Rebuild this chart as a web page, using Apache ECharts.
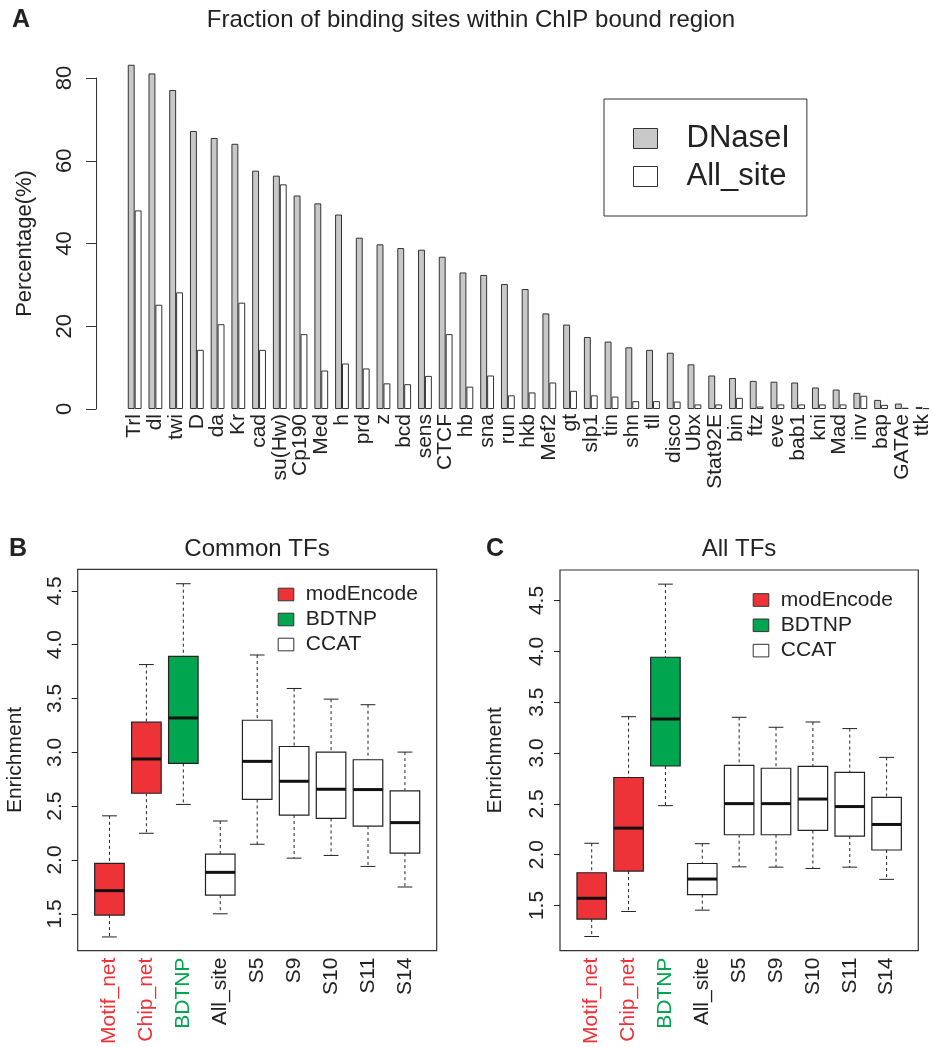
<!DOCTYPE html>
<html>
<head>
<meta charset="utf-8">
<script src="https://cdn.jsdelivr.net/npm/echarts@6/dist/echarts.min.js"></script>
<style>
  html, body { margin: 0; padding: 0; background: #fff; }
  #chart { width: 933px; height: 1047px; }
</style>
</head>
<body>
<div id="chart"></div>
<script>
// panel A: fraction of binding sites within ChIP bound region (%)
const tfNames = ['Trl', 'dl', 'twi', 'D', 'da', 'Kr', 'cad', 'su(Hw)', 'Cp190', 'Med', 'h', 'prd', 'z', 'bcd', 'sens', 'CTCF', 'hb', 'sna', 'run', 'hkb', 'Mef2', 'gt', 'slp1', 'tin', 'shn', 'tll', 'disco', 'Ubx', 'Stat92E', 'bin', 'ftz', 'eve', 'bab1', 'kni', 'Mad', 'inv', 'bap', 'GATAe', 'ttk'];
const dnaseValues = [83.2, 81.1, 77.1, 67.2, 65.5, 64.1, 57.6, 56.4, 51.6, 49.7, 47.0, 41.4, 39.8, 38.9, 38.5, 36.8, 33.0, 32.4, 30.2, 29.0, 23.1, 20.4, 17.4, 16.3, 14.9, 14.3, 13.6, 10.8, 8.1, 7.5, 6.8, 6.6, 6.4, 5.2, 4.7, 3.9, 2.2, 1.3, 0.5];
const allSiteValues = [48.0, 25.2, 28.2, 14.3, 20.5, 25.7, 14.3, 54.3, 18.1, 9.3, 11.0, 9.8, 6.2, 6.0, 8.0, 18.1, 5.4, 8.1, 3.3, 4.0, 6.4, 4.4, 3.3, 3.0, 1.9, 1.9, 1.8, 1.1, 1.1, 2.7, 0.6, 1.1, 1.1, 1.1, 1.1, 3.2, 1.0, 0.3, 0.2];

// panels B and C: enrichment boxplots
const boxNames = ['Motif_net', 'Chip_net', 'BDTNP', 'All_site', 'S5', 'S9', 'S10', 'S11', 'S14'];
const boxSources = ['modEncode', 'modEncode', 'BDTNP', 'CCAT', 'CCAT', 'CCAT', 'CCAT', 'CCAT', 'CCAT'];
const commonMin = [1.285, 2.248, 2.516, 1.500, 2.146, 2.017, 2.042, 1.940, 1.749];
const commonQ1 = [1.488, 2.620, 2.897, 1.673, 2.562, 2.417, 2.386, 2.315, 2.063];
const commonMedian = [1.715, 2.938, 3.319, 1.885, 2.916, 2.731, 2.657, 2.654, 2.347];
const commonQ3 = [1.968, 3.280, 3.891, 2.054, 3.298, 3.054, 3.002, 2.931, 2.642];
const commonMax = [2.410, 3.815, 4.566, 2.362, 3.904, 3.593, 3.494, 3.442, 3.002];
const allMin = [1.195, 1.441, 2.482, 1.454, 1.880, 1.877, 1.864, 1.877, 1.757];
const allQ1 = [1.366, 1.838, 2.872, 1.607, 2.196, 2.196, 2.238, 2.183, 2.046];
const allMedian = [1.571, 2.261, 3.334, 1.760, 2.502, 2.502, 2.547, 2.473, 2.297];
const allQ3 = [1.822, 2.759, 3.942, 1.913, 2.879, 2.850, 2.869, 2.810, 2.563];
const allMax = [2.112, 3.357, 4.661, 2.108, 3.351, 3.253, 3.305, 3.240, 2.957];
const enrichTicks = [1.5, 2.0, 2.5, 3.0, 3.5, 4.0, 4.5];
const boxPositions = [1, 2, 3, 4, 5, 6, 7, 8, 9];

const FONT = '"Liberation Sans", Arial, Helvetica, sans-serif';
const INK = '#222';
const RED = '#ee3338';
const GREEN = '#00a550';
const sourceFill = { modEncode: RED, BDTNP: GREEN, CCAT: '#ffffff' };

const chart = echarts.init(document.getElementById('chart'), null, { renderer: 'canvas' });

function renderBox(params, api) {
  const pos = api.value(0);
  const low = api.coord([pos, api.value(1)]);
  const q1 = api.coord([pos, api.value(2)]);
  const med = api.coord([pos, api.value(3)]);
  const q3 = api.coord([pos, api.value(4)]);
  const high = api.coord([pos, api.value(5)]);
  const boxW = api.size([0.8, 0])[0];
  const x = med[0];
  const dashed = { stroke: INK, lineWidth: 1, lineDash: [3, 3] };
  const solid = { stroke: INK, lineWidth: 1 };
  return {
    type: 'group',
    children: [
      { type: 'line', shape: { x1: x, y1: high[1], x2: x, y2: q3[1] }, style: dashed },
      { type: 'line', shape: { x1: x, y1: q1[1], x2: x, y2: low[1] }, style: dashed },
      { type: 'line', shape: { x1: x - boxW / 4, y1: high[1], x2: x + boxW / 4, y2: high[1] }, style: solid },
      { type: 'line', shape: { x1: x - boxW / 4, y1: low[1], x2: x + boxW / 4, y2: low[1] }, style: solid },
      { type: 'rect', shape: { x: x - boxW / 2, y: q3[1], width: boxW, height: q1[1] - q3[1] },
        style: { fill: api.visual('color'), stroke: INK, lineWidth: 1.2 } },
      { type: 'line', shape: { x1: x - boxW / 2, y1: med[1], x2: x + boxW / 2, y2: med[1] },
        style: { stroke: '#111', lineWidth: 3 } }
    ]
  };
}

function boxSeries(axisIdx, mins, q1s, meds, q3s, maxs) {
  return ['modEncode', 'BDTNP', 'CCAT'].map(function (src) {
    const data = [];
    boxPositions.forEach(function (p, i) {
      if (boxSources[i] === src) data.push([p, mins[i], q1s[i], meds[i], q3s[i], maxs[i]]);
    });
    return {
      name: src,
      type: 'custom',
      xAxisIndex: axisIdx,
      yAxisIndex: axisIdx,
      renderItem: renderBox,
      encode: { x: 0, y: [1, 2, 3, 4, 5] },
      itemStyle: { color: sourceFill[src], borderColor: INK, borderWidth: 1 },
      data: data,
      silent: true
    };
  });
}

function boxXAxis(gridIndex) {
  return {
    gridIndex: gridIndex,
    type: 'value',
    min: 0.14,
    max: 9.86,
    axisLine: { show: false },
    axisTick: { show: false },
    splitLine: { show: false },
    axisLabel: {
      customValues: boxPositions,
      rotate: 90,
      margin: 7,
      fontSize: 21,
      fontFamily: FONT,
      formatter: function (v) {
        const i = Math.round(v) - 1;
        return '{' + boxSources[i] + '|' + boxNames[i] + '}';
      },
      rich: {
        modEncode: { color: RED, fontSize: 21, fontFamily: FONT },
        BDTNP: { color: GREEN, fontSize: 21, fontFamily: FONT },
        CCAT: { color: INK, fontSize: 21, fontFamily: FONT }
      }
    }
  };
}

function boxYAxis(gridIndex, min, max, nameGap) {
  return {
    gridIndex: gridIndex,
    type: 'value',
    min: min,
    max: max,
    axisLine: { show: false },
    axisTick: { show: true, customValues: enrichTicks, length: 6, lineStyle: { color: INK } },
    splitLine: { show: false },
    axisLabel: {
      customValues: enrichTicks,
      rotate: 90,
      margin: 12,
      fontSize: 21,
      color: INK,
      fontFamily: FONT,
      formatter: function (v) { return v.toFixed(1); }
    },
    name: 'Enrichment',
    nameLocation: 'middle',
    nameRotate: 90,
    nameGap: nameGap,
    nameTextStyle: { fontSize: 21, color: INK, fontFamily: FONT }
  };
}

const titleStyle = { fontSize: 24, fontWeight: 'normal', color: INK, fontFamily: FONT };
const letterStyle = { fontSize: 25, fontWeight: 'bold', color: INK, fontFamily: FONT };

const option = {
  animation: false,
  backgroundColor: '#fff',
  textStyle: { fontFamily: FONT, color: INK },
  title: [
    { text: 'A', left: 12, top: 8, padding: 0, textStyle: letterStyle },
    { text: 'Fraction of binding sites within ChIP bound region', left: 471, top: 8, padding: 0, textAlign: 'center', textStyle: titleStyle },
    { text: 'B', left: 9, top: 537, padding: 0, textStyle: letterStyle },
    { text: 'Common TFs', left: 257, top: 537, padding: 0, textAlign: 'center', textStyle: titleStyle },
    { text: 'C', left: 486, top: 537, padding: 0, textStyle: letterStyle },
    { text: 'All TFs', left: 739, top: 537, padding: 0, textAlign: 'center', textStyle: titleStyle }
  ],
  legend: [
    {
      data: ['DNaseI', 'All_site'],
      left: 604, top: 99,
      orient: 'vertical',
      icon: 'rect',
      selectedMode: false,
      borderColor: '#333', borderWidth: 1,
      padding: [24, 17, 24, 29],
      itemWidth: 24, itemHeight: 20, itemGap: 7,
      itemStyle: { borderColor: '#333', borderWidth: 1 },
      textStyle: { fontSize: 31, color: INK, fontFamily: FONT, padding: [0, 0, 0, 24] }
    },
    {
      data: ['modEncode', 'BDTNP', 'CCAT'],
      left: 277.7, top: 584,
      orient: 'vertical',
      icon: 'rect',
      selectedMode: false,
      padding: 0,
      itemWidth: 15.6, itemHeight: 12.6, itemGap: 4,
      itemStyle: { borderColor: '#333', borderWidth: 1 },
      textStyle: { fontSize: 21, color: INK, fontFamily: FONT, padding: [0, 0, 0, 7] }
    },
    {
      data: ['modEncode', 'BDTNP', 'CCAT'],
      left: 752.7, top: 589.5,
      orient: 'vertical',
      icon: 'rect',
      selectedMode: false,
      padding: 0,
      itemWidth: 15.6, itemHeight: 12.6, itemGap: 4.3,
      itemStyle: { borderColor: '#333', borderWidth: 1 },
      textStyle: { fontSize: 21, color: INK, fontFamily: FONT, padding: [0, 0, 0, 7] }
    }
  ],
  grid: [
    { left: 124.3, top: 78, width: 811.2, height: 331 },
    { left: 77.7, top: 569.3, width: 359, height: 383.4, show: true, borderColor: '#333', borderWidth: 1.2, backgroundColor: 'transparent' },
    { left: 560, top: 570, width: 358.3, height: 383.3, show: true, borderColor: '#333', borderWidth: 1.2, backgroundColor: 'transparent' }
  ],
  xAxis: [
    {
      gridIndex: 0,
      type: 'category',
      data: tfNames,
      axisLine: { show: false },
      axisTick: { show: false },
      axisLabel: { interval: 0, rotate: 90, margin: 5, fontSize: 21, color: INK, fontFamily: FONT }
    },
    boxXAxis(1),
    boxXAxis(2)
  ],
  yAxis: [
    {
      gridIndex: 0,
      type: 'value',
      min: 0, max: 80, interval: 20,
      offset: 28.3,
      axisLine: { show: true, lineStyle: { color: '#333', width: 1 } },
      axisTick: { show: true, length: 10, lineStyle: { color: '#333' } },
      splitLine: { show: false },
      axisLabel: { rotate: 90, margin: 20, fontSize: 22, color: INK, fontFamily: FONT },
      name: 'Percentage(%)',
      nameLocation: 'middle',
      nameRotate: 90,
      nameGap: 60,
      nameTextStyle: { fontSize: 22, color: INK, fontFamily: FONT }
    },
    boxYAxis(1, 1.158, 4.70, 52),
    boxYAxis(2, 1.056, 4.80, 54)
  ],
  series: [
    {
      name: 'DNaseI',
      type: 'bar',
      xAxisIndex: 0, yAxisIndex: 0,
      data: dnaseValues,
      barWidth: 6.9,
      barGap: '0%',
      clip: false,
      itemStyle: { color: '#c8c8c8', borderColor: '#333', borderWidth: 1 },
      silent: true
    },
    {
      name: 'All_site',
      type: 'bar',
      xAxisIndex: 0, yAxisIndex: 0,
      data: allSiteValues,
      barWidth: 6.9,
      barGap: '0%',
      clip: false,
      itemStyle: { color: '#ffffff', borderColor: '#333', borderWidth: 1 },
      silent: true
    }
  ].concat(
    boxSeries(1, commonMin, commonQ1, commonMedian, commonQ3, commonMax),
    boxSeries(2, allMin, allQ1, allMedian, allQ3, allMax)
  )
};

chart.setOption(option);
</script>
</body>
</html>
